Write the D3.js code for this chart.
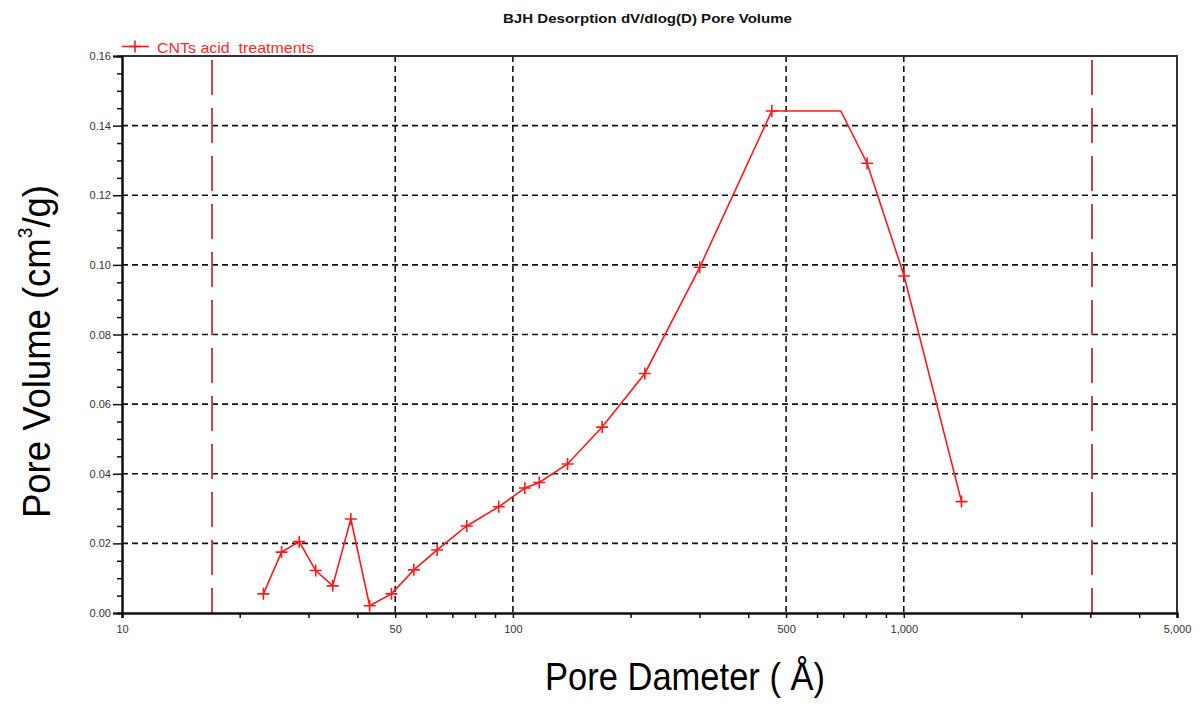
<!DOCTYPE html>
<html>
<head>
<meta charset="utf-8">
<script src="https://cdn.jsdelivr.net/npm/d3@7"></script>
<style>
  body { margin: 0; background: #fff; }
  svg { display: block; font-family: Arial, "Liberation Sans", sans-serif; }
</style>
</head>
<body>
<div id="chart"></div>
<script>
// pore diameters (A) and dV/dlog(D) volumes
var diameters = [23.0, 25.6, 28.4, 31.3, 34.6, 38.5, 43.0, 48.9, 55.8, 64.0, 76.2, 92.0,
                 107.3, 116.8, 138, 169.2, 217.6, 300.6, 459.6, 805.6, 1002, 1405];
var volumes = [0.0055, 0.0175, 0.0205, 0.0122, 0.0078, 0.0270, 0.0021, 0.0055, 0.0124, 0.0181, 0.0250, 0.0305,
               0.0359, 0.0375, 0.0428, 0.0534, 0.0688, 0.0993, 0.1442, 0.1292, 0.0968, 0.0320];
// the curve has a flat top that ends without a marker
var plateauEnd = {d: 690, v: 0.1442};

// red dashed limits
var limitLines = [17, 3030];

var xMajorTicks = [10, 50, 100, 500, 1000, 5000];
var xGridTicks = [50, 100, 500, 1000];
var yMajorTicks = [0, 0.02, 0.04, 0.06, 0.08, 0.10, 0.12, 0.14, 0.16];
var yGridTicks = [0.02, 0.04, 0.06, 0.08, 0.10, 0.12, 0.14];

var chartTitle = "BJH Desorption dV/dlog(D) Pore Volume";
var seriesName = "CNTs acid  treatments";

var width = 1204, height = 707;
var margin = {top: 56, right: 27, bottom: 94, left: 122};
var plotW = width - margin.left - margin.right,
    plotH = height - margin.top - margin.bottom;

var svg = d3.select("#chart")
  .append("svg")
    .attr("width", width)
    .attr("height", height);

var g = svg.append("g")
    .attr("transform", `translate(${margin.left},${margin.top})`);

var x = d3.scaleLog()
    .domain([10, 5000])
    .range([0, plotW]);

var y = d3.scaleLinear()
    .domain([0, 0.16])
    .range([plotH, 0]);

// minor ticks: every 1..9 x 10^k on x, every 0.005 on y
var xMinorTicks = [];
[10, 100, 1000].forEach(function(dec) {
  for (var m = 1; m < 10; m++) {
    var t = m * dec;
    if (t <= 5000 && xMajorTicks.indexOf(t) < 0) xMinorTicks.push(t);
  }
});
var yMinorTicks = d3.range(0, 0.1601, 0.005).filter(function(t) {
  return Math.abs(Math.round(t / 0.02) * 0.02 - t) > 1e-6;
});

// grid
g.append("g")
  .selectAll("line")
  .data(yGridTicks)
  .join("line")
    .attr("x1", 0).attr("x2", plotW)
    .attr("y1", d => y(d)).attr("y2", d => y(d))
    .attr("stroke", "#111")
    .attr("stroke-width", 1.6)
    .attr("stroke-dasharray", "6,4");

g.append("g")
  .selectAll("line")
  .data(xGridTicks)
  .join("line")
    .attr("x1", d => x(d)).attr("x2", d => x(d))
    .attr("y1", 0).attr("y2", plotH)
    .attr("stroke", "#111")
    .attr("stroke-width", 1.6)
    .attr("stroke-dasharray", "6,4");

// limit lines
g.append("g")
  .selectAll("line")
  .data(limitLines)
  .join("line")
    .attr("x1", d => x(d)).attr("x2", d => x(d))
    .attr("y1", 4).attr("y2", plotH)
    .attr("stroke", "#c0404a")
    .attr("stroke-width", 2)
    .attr("stroke-dasharray", "35,13");

// frame top/right
g.append("path")
    .attr("d", `M0,0H${plotW}V${plotH}`)
    .attr("fill", "none")
    .attr("stroke", "#333")
    .attr("stroke-width", 2);

// axes
g.append("g")
    .attr("transform", `translate(0,${plotH})`)
    .call(d3.axisBottom(x).tickValues(xMajorTicks).tickFormat(d3.format(",")).tickSize(5).tickPadding(7));
g.append("g")
    .attr("transform", `translate(0,${plotH})`)
    .call(d3.axisBottom(x).tickValues(xMinorTicks).tickFormat("").tickSize(5));

g.append("g")
    .call(d3.axisLeft(y).tickValues(yMajorTicks).tickFormat(d3.format(".2f")).tickSize(9).tickPadding(2));
g.append("g")
    .call(d3.axisLeft(y).tickValues(yMinorTicks).tickFormat("").tickSize(5));

g.selectAll(".domain").attr("stroke", "#111").attr("stroke-width", 2);
g.selectAll(".tick line").attr("stroke", "#111").attr("stroke-width", 1.5);
g.selectAll(".tick text")
    .attr("font-size", 11)
    .attr("fill", "#333")
    .attr("font-family", "Arial, 'Liberation Sans', sans-serif");

// series line
var linePts = diameters.map(function(d, i) { return {d: d, v: volumes[i]}; });
linePts.push(plateauEnd);
linePts.sort(function(a, b) { return a.d - b.d; });

g.append("path")
    .datum(linePts)
    .attr("fill", "none")
    .attr("stroke", "#ff1a1a")
    .attr("stroke-width", 1.6)
    .attr("d", d3.line().x(p => x(p.d)).y(p => y(p.v)));

var plus = "M-6,0H6M0,-6V6";
g.append("g")
  .selectAll("path")
  .data(diameters)
  .join("path")
    .attr("transform", (d, i) => `translate(${x(d)},${y(volumes[i])})`)
    .attr("d", plus)
    .attr("stroke", "#ff1a1a")
    .attr("stroke-width", 1.6);

// legend
svg.append("line")
    .attr("x1", 122).attr("x2", 149)
    .attr("y1", 46.5).attr("y2", 46.5)
    .attr("stroke", "#ff1a1a").attr("stroke-width", 1.6);
svg.append("path")
    .attr("transform", "translate(135,46.5)")
    .attr("d", plus)
    .attr("stroke", "#ff1a1a").attr("stroke-width", 1.6);
svg.append("text")
    .attr("x", 157).attr("y", 52.5)
    .attr("font-size", 15)
    .attr("fill", "#ff2a2a")
    .attr("textLength", 157)
    .attr("lengthAdjust", "spacingAndGlyphs")
    .style("white-space", "pre")
    .text(seriesName);

// title
svg.append("text")
    .attr("x", 503).attr("y", 23)
    .attr("font-size", 12.5)
    .attr("font-weight", "bold")
    .attr("fill", "#111")
    .attr("textLength", 289)
    .attr("lengthAdjust", "spacingAndGlyphs")
    .text(chartTitle);

// y label
var yl = svg.append("text")
    .attr("transform", "translate(50,518) rotate(-90)")
    .attr("font-size", 38)
    .attr("fill", "#000")
    .attr("textLength", 333)
    .attr("lengthAdjust", "spacingAndGlyphs");
yl.append("tspan").text("Pore Volume (cm");
yl.append("tspan").attr("font-size", 20).attr("dy", -18).text("3");
yl.append("tspan").attr("dy", 18).text("/g)");

// x label
svg.append("text")
    .attr("x", 545).attr("y", 690)
    .attr("font-size", 39)
    .attr("fill", "#000")
    .attr("textLength", 280)
    .attr("lengthAdjust", "spacingAndGlyphs")
    .style("white-space", "pre")
    .text("Pore Dameter ( Å)");
</script>
</body>
</html>
